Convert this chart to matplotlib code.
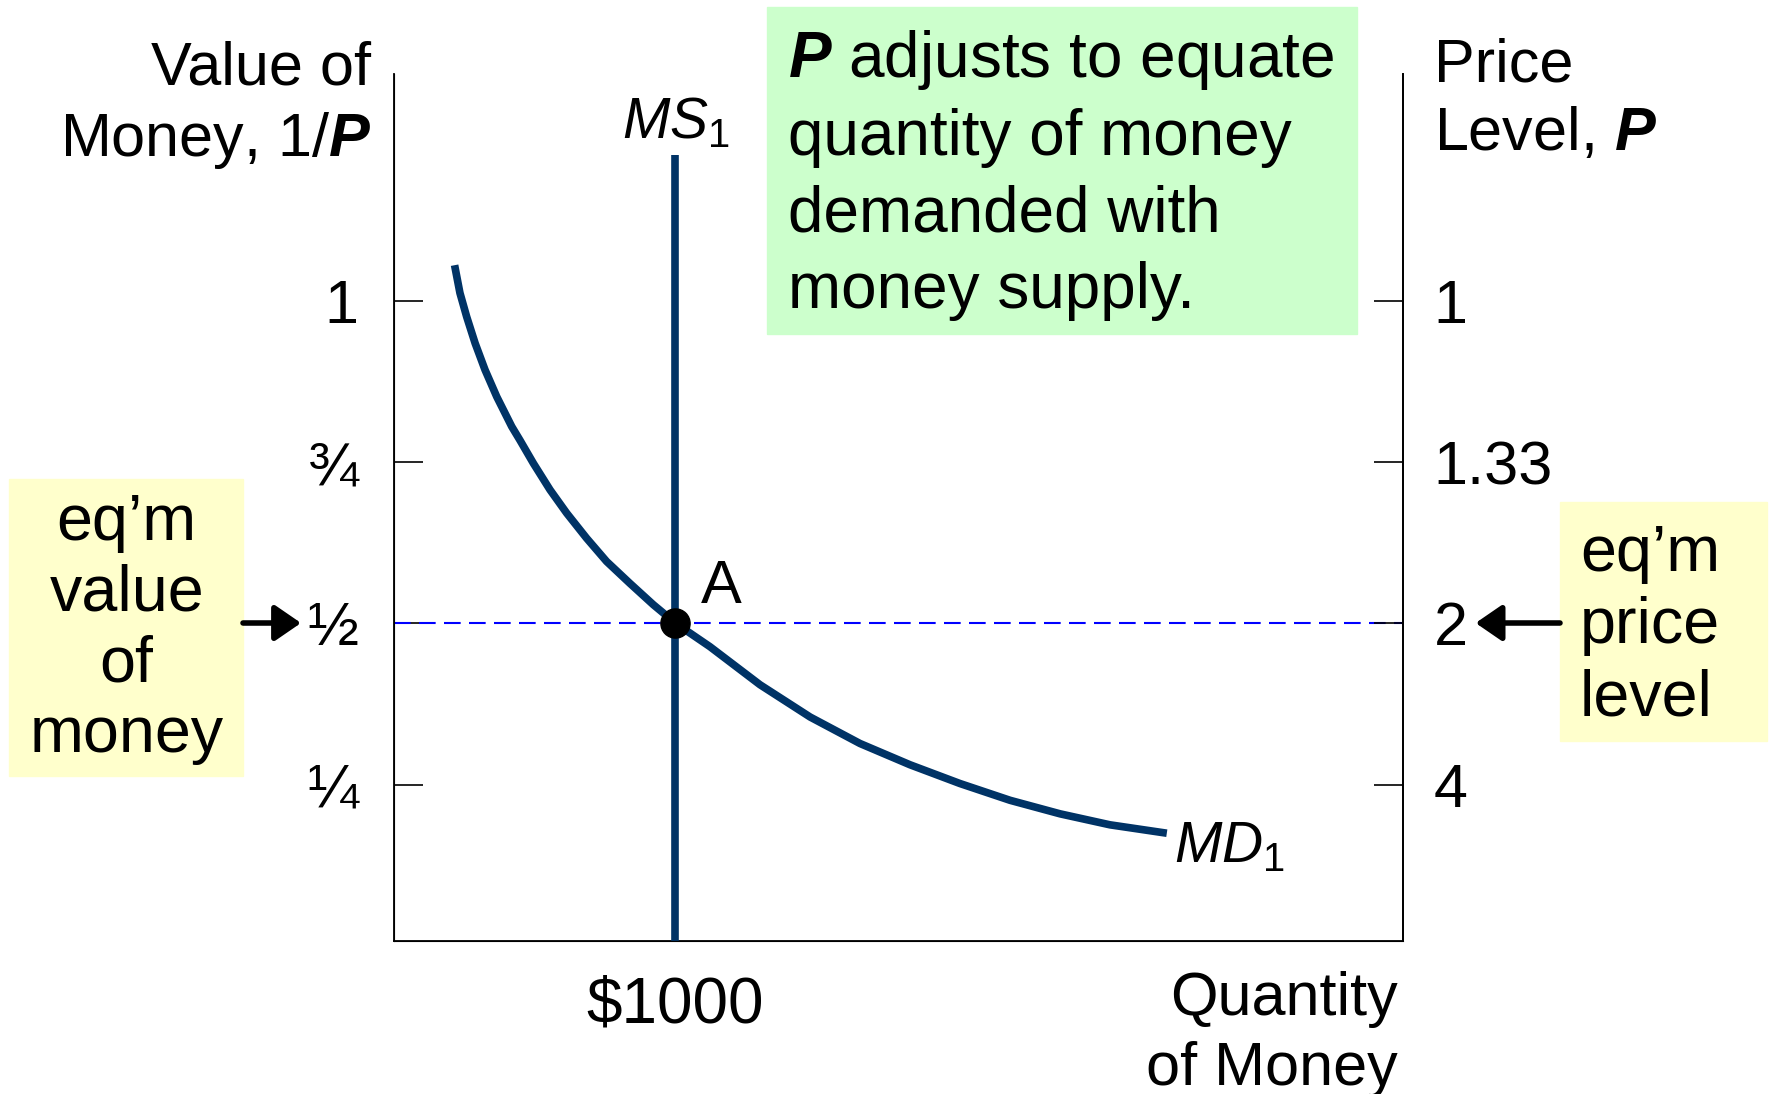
import matplotlib
matplotlib.use('Agg')
import matplotlib.pyplot as plt
from matplotlib.patches import Rectangle

plt.rcParams['font.family'] = 'Liberation Sans'
plt.rcParams['mathtext.fontset'] = 'custom'
plt.rcParams['mathtext.rm'] = 'Liberation Sans'
plt.rcParams['mathtext.it'] = 'Liberation Sans:italic'
plt.rcParams['mathtext.bf'] = 'Liberation Sans:bold'
plt.rcParams['mathtext.bfit'] = 'Liberation Sans:bold:italic'

# Geldnachfrage MD1 (Menge, Wert des Geldes 1/P)
md_q = [217, 236, 260, 290, 325, 367, 420, 449, 497, 556, 615, 686, 757, 840, 923, 1003,
        1124, 1302, 1480, 1657, 1835, 2012, 2190, 2368, 2545, 2747]
md_v = [1.055, 1.012, 0.975, 0.934, 0.893, 0.851, 0.805, 0.784, 0.748, 0.707, 0.671, 0.632,
        0.596, 0.562, 0.529, 0.500, 0.464, 0.405, 0.355, 0.314, 0.281, 0.252, 0.226, 0.205,
        0.188, 0.175]

# Geldangebot MS1
ms_q = 1000
ms_top = 1.226

# Gleichgewicht A
eq_value = 0.5

y_ticks = [0.25, 0.5, 0.75, 1]
left_labels = ['¼', '½', '¾', '1']
right_labels = ['4', '2', '1.33', '1']

navy = '#003366'
W, H = 1773, 1094


def fp(x, y):
    # Pixel (von oben links) -> figure fraction
    return x / W, 1 - y / H


fig = plt.figure(figsize=(W / 100, H / 100), dpi=100)
ax = fig.add_axes([393.5 / W, 1 - 941 / H, (1403 - 393.5) / W, (941 - 73.5) / H])
ax.patch.set_visible(False)
ax.set_xlim(0, 3586)
ax.set_ylim(0.008, 1.352)

ax.plot(md_q, md_v, color=navy, lw=5.5, solid_capstyle='butt', solid_joinstyle='round', zorder=3)
ax.vlines(ms_q, 0, ms_top, color=navy, lw=5.5, zorder=3)
ax.axhline(eq_value, color='blue', lw=1.5, dashes=(8, 4), zorder=2)
ax.plot(ms_q, eq_value, 'o', color='black', ms=21, zorder=5)

for s in ['left', 'bottom', 'right']:
    ax.spines[s].set_linewidth(1.3)
ax.spines['top'].set_visible(False)

ax.set_yticks(y_ticks, left_labels)
ax.tick_params(axis='y', direction='in', length=21, width=1.2, labelsize=44, pad=25)
ax.set_xticks([ms_q], ['$1000'])
ax.tick_params(axis='x', length=0, pad=25, labelsize=46)

ax2 = ax.twinx()
ax2.patch.set_visible(False)
ax2.set_ylim(ax.get_ylim())
ax2.set_yticks(y_ticks, right_labels)
ax2.tick_params(axis='y', direction='in', length=21, width=1.2, labelsize=44, pad=22)
ax2.spines['top'].set_visible(False)
ax2.spines['right'].set_linewidth(1.3)

# Achsentitel (Grundlinie der letzten Zeile)
fig.text(*fp(371, 156), 'Value of\nMoney, 1/$\\mathbfit{P}$', ha='right', va='baseline',
         fontsize=44, linespacing=1.28)
fig.text(*fp(1434, 150), 'Price\nLevel, $\\mathbfit{P}$', ha='left', va='baseline',
         fontsize=44, linespacing=1.26)
fig.text(*fp(1397.6, 1085.5), 'Quantity\nof Money', ha='right', va='baseline',
         fontsize=44, linespacing=1.31)

# Kurvenbeschriftungen
fig.text(*fp(622, 138), r'$\mathit{MS}_{\mathrm{1}}$', ha='left', va='baseline', fontsize=41)
fig.text(*fp(1174, 861.6), r'$\mathit{MD}_{\mathrm{1}}$', ha='left', va='baseline', fontsize=41)
fig.text(*fp(701, 603), 'A', ha='left', va='baseline', fontsize=44)

# gruene Box
x0, y0 = fp(766.6, 333.6)
fig.add_artist(Rectangle((x0, y0), (1357 - 766.6) / W, (333.6 - 6.8) / H,
                         transform=fig.transFigure, color='#CCFFCC', zorder=0))
fig.text(*fp(788, 308), '$\\mathbfit{P}$ adjusts to equate\nquantity of money\ndemanded with\nmoney supply.',
         ha='left', va='baseline', fontsize=46, linespacing=1.35)

# gelbe Boxen
x0, y0 = fp(9, 776)
fig.add_artist(Rectangle((x0, y0), (243 - 9) / W, (776 - 479) / H,
                         transform=fig.transFigure, color='#FFFFCC', zorder=0))
fig.text(*fp(126.6, 752), 'eq’m\nvalue\nof\nmoney', ha='center', va='baseline',
         fontsize=46.5, linespacing=1.23, multialignment='center')

x0, y0 = fp(1560, 740.6)
fig.add_artist(Rectangle((x0, y0), (1767 - 1560) / W, (740.6 - 502) / H,
                         transform=fig.transFigure, color='#FFFFCC', zorder=0))
fig.text(*fp(1580, 716), 'eq’m\nprice\nlevel', ha='left', va='baseline',
         fontsize=46.5, linespacing=1.27)

# Pfeile
arrow = dict(arrowstyle='-|>,head_length=0.8,head_width=0.55', color='black', lw=4,
             mutation_scale=20, shrinkA=0, shrinkB=0)
ax.annotate('', xy=fp(301, 623), xycoords='figure fraction',
            xytext=fp(243, 623), textcoords='figure fraction', arrowprops=arrow)
ax.annotate('', xy=fp(1475.6, 623), xycoords='figure fraction',
            xytext=fp(1560, 623), textcoords='figure fraction', arrowprops=arrow)

fig.savefig('out.png', dpi=100)
